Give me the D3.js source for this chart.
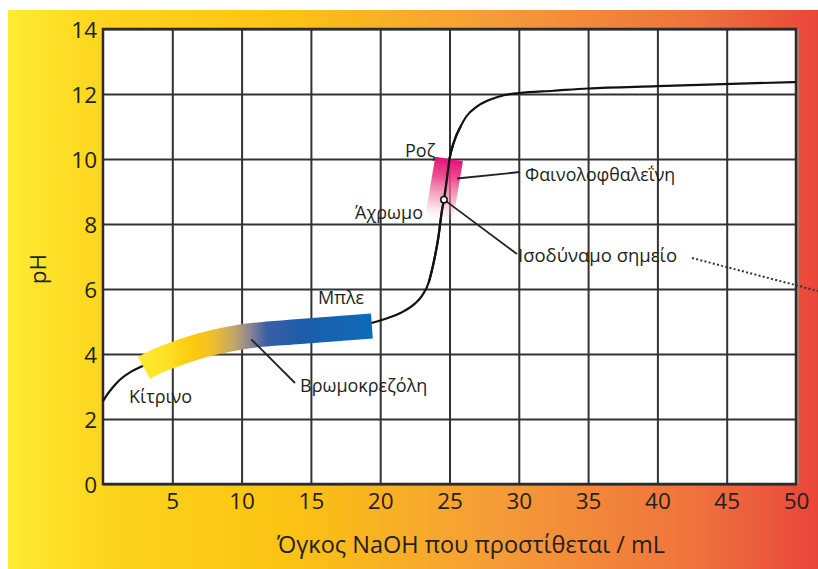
<!DOCTYPE html>
<html>
<head>
<meta charset="utf-8">
<script src="https://cdn.jsdelivr.net/npm/d3@7"></script>
<style>
  html, body { margin: 0; padding: 0; background: #ffffff; }
  svg { display: block; }
  text { font-family: "Open Sans", "Noto Sans", sans-serif; fill: #231f20; }
</style>
</head>
<body>
<svg id="chart" width="818" height="569"></svg>
<script>
// ---------- data ----------
// titration curve: volume NaOH (mL) vs pH
const volume = [0, 0.3, 0.7, 1.2, 2, 2.7, 3.5, 4.6, 7, 10, 14.2, 17, 19.5, 20.5, 21.5, 22.5, 23, 23.5, 23.85, 24.2, 24.45, 24.6, 24.8, 25, 25.3, 25.8, 26.2, 27, 28, 29, 30, 32.5, 35, 40, 43, 50];
const pH     = [2.55, 2.75, 2.97, 3.2, 3.45, 3.6, 3.74, 3.9, 4.25, 4.52, 4.72, 4.84, 4.97, 5.1, 5.27, 5.55, 5.78, 6.2, 6.8, 7.6, 8.4, 8.75, 9.35, 10.0, 10.5, 11.0, 11.3, 11.62, 11.84, 11.97, 12.03, 12.1, 12.17, 12.24, 12.28, 12.37];

// bromocresol green indicator band (centre line)
const bromoVolume = [2.96, 3.8, 4.6, 7, 9.9, 14.2, 19.4];
const bromoPH     = [3.57, 3.76, 3.9, 4.25, 4.52, 4.69, 4.86];
const bromoStopVolume = [2.95, 4.5, 6.6, 7.8, 9.4, 10.6, 11.8, 14.0, 19.5];
const bromoStopColor  = ["#fee92e", "#fde126", "#fcc80f", "#f2c027", "#c4a766", "#8d8591", "#3b5fa5", "#1f5ca9", "#0e6bb7"];

// phenolphthalein indicator band (centre line, top -> bottom)
const phenolVolume = [24.97, 24.2];
const phenolPH     = [10.0, 8.05];

// equivalence point
const eqVolume = 24.6, eqPH = 8.75;

// axes
const xTicks = [5, 10, 15, 20, 25, 30, 35, 40, 45, 50];
const yTicks = [0, 2, 4, 6, 8, 10, 12, 14];
const xTitle = "Όγκος NaOH που προστίθεται / mL";
const yTitle = "pH";
const labelTexts = ["Κίτρινο", "Βρωμοκρεζόλη", "Μπλε", "Ροζ", "Άχρωμο", "Φαινολοφθαλεΐνη", "Ισοδύναμο σημείο"];

// ---------- drawing ----------
(function () {
const svg = d3.select("#chart");
const W = 818, H = 569;
const pL = 103, pR = 796, pT = 29, pB = 484;
const x = d3.scaleLinear().domain([0, 50]).range([pL, pR]);
const y = d3.scaleLinear().domain([0, 14]).range([pB, pT]);

const defs = svg.append("defs");
const bg = defs.append("linearGradient").attr("id", "bg").attr("x1", 0).attr("x2", 1).attr("y1", 0).attr("y2", 0);
[[0, "#feec33"], [0.12, "#fdd41d"], [0.35, "#fbc313"], [0.6, "#f59c37"], [0.85, "#ef723d"], [1, "#e9463a"]]
  .forEach(([o, c]) => bg.append("stop").attr("offset", o).attr("stop-color", c));

svg.append("rect").attr("x", 8).attr("y", 10).attr("width", W - 8).attr("height", H - 10).attr("fill", "url(#bg)");
svg.append("rect").attr("x", pL).attr("y", pT).attr("width", pR - pL).attr("height", pB - pT).attr("fill", "#ffffff");

// grid + axes
const gx = svg.append("g").attr("transform", `translate(0,${pB})`)
  .call(d3.axisBottom(x).tickValues(xTicks).tickSize(-(pB - pT)).tickPadding(9).tickFormat(d3.format("d")));
const gy = svg.append("g").attr("transform", `translate(${pL},0)`)
  .call(d3.axisLeft(y).tickValues(yTicks).tickSize(-(pR - pL)).tickPadding(6).tickFormat(d3.format("d")));
[gx, gy].forEach(g => {
  g.select(".domain").remove();
  g.selectAll(".tick line").attr("stroke", "#333333").attr("stroke-width", 2);
  g.selectAll(".tick text").attr("font-size", 22.5).attr("fill", "#231f20")
    .style("font-family", '"Open Sans", sans-serif');
});
gy.selectAll(".tick text").attr("dy", "0.36em");

// frame
svg.append("rect").attr("x", pL).attr("y", pT).attr("width", pR - pL).attr("height", pB - pT)
  .attr("fill", "none").attr("stroke", "#2b2b2b").attr("stroke-width", 2.5);
svg.append("line").attr("x1", pR + 2).attr("x2", pR + 2).attr("y1", pT).attr("y2", pB)
  .attr("stroke", "#9a9a9a").attr("stroke-width", 1.2);

// titration curve
const line = d3.line().x(d => x(d[0])).y(d => y(d[1])).curve(d3.curveMonotoneX);
svg.append("path").datum(volume.map((v, i) => [v, pH[i]]))
  .attr("d", line).attr("fill", "none").attr("stroke", "#111").attr("stroke-width", 2.2);

// bromocresol band
const bg2 = defs.append("linearGradient").attr("id", "bromo").attr("gradientUnits", "userSpaceOnUse")
  .attr("x1", x(bromoStopVolume[0])).attr("x2", x(bromoStopVolume[bromoStopVolume.length - 1])).attr("y1", 0).attr("y2", 0);
const span = bromoStopVolume[bromoStopVolume.length - 1] - bromoStopVolume[0];
bromoStopVolume.forEach((v, i) => bg2.append("stop").attr("offset", (v - bromoStopVolume[0]) / span).attr("stop-color", bromoStopColor[i]));
svg.append("path").datum(bromoVolume.map((v, i) => [v, bromoPH[i]]))
  .attr("d", d3.line().x(d => x(d[0])).y(d => y(d[1])).curve(d3.curveMonotoneX))
  .attr("fill", "none").attr("stroke", "url(#bromo)").attr("stroke-width", 25).attr("stroke-linecap", "butt");

// phenolphthalein band
const ph = defs.append("linearGradient").attr("id", "phenol").attr("gradientUnits", "userSpaceOnUse")
  .attr("x1", x(phenolVolume[0])).attr("y1", y(phenolPH[0])).attr("x2", x(phenolVolume[1])).attr("y2", y(phenolPH[1]));
[[0, "#e5117a", 1], [0.3, "#ea3f86", 0.9], [0.65, "#f08eac", 0.6], [1, "#fce1ea", 0]]
  .forEach(([o, c, a]) => ph.append("stop").attr("offset", o).attr("stop-color", c).attr("stop-opacity", a));
svg.append("path").datum(phenolVolume.map((v, i) => [v, phenolPH[i]]))
  .attr("d", d3.line().x(d => x(d[0])).y(d => y(d[1])))
  .attr("fill", "none").attr("stroke", "url(#phenol)").attr("stroke-width", 28).attr("stroke-linecap", "butt");
// redraw curve over phenol band
svg.append("path").datum(volume.map((v, i) => [v, pH[i]]).filter(d => d[0] >= 23.5 && d[0] <= 25.8))
  .attr("d", line).attr("fill", "none").attr("stroke", "#111").attr("stroke-width", 2.2);

// leader lines
const lead = (x1, y1, x2, y2) => svg.append("line").attr("x1", x1).attr("y1", y1).attr("x2", x2).attr("y2", y2)
  .attr("stroke", "#222").attr("stroke-width", 1.8);
lead(x(10.7), y(4.45), 295, 383);       // Βρωμοκρεζόλη
lead(457, 178.5, 520, 172);             // Φαινολοφθαλεΐνη
lead(x(eqVolume), y(eqPH), 517, 254);   // Ισοδύναμο σημείο
svg.append("line").attr("x1", 692).attr("y1", 258).attr("x2", 818).attr("y2", 291)
  .attr("stroke", "#333").attr("stroke-width", 2).attr("stroke-dasharray", "2,2.3");

// equivalence point marker
svg.append("circle").attr("cx", x(eqVolume)).attr("cy", y(eqPH)).attr("r", 3.2)
  .attr("fill", "#fff").attr("stroke", "#111").attr("stroke-width", 1.5);

// labels
const lab = (t, xx, yy, anchor, fs) => svg.append("text").attr("x", xx).attr("y", yy)
  .attr("font-size", fs || 18).attr("text-anchor", anchor || "start").text(t);
lab(labelTexts[0], 129, 403);
lab(labelTexts[1], 300, 391.5);
lab(labelTexts[2], 318, 304);
lab(labelTexts[3], 405, 157);
lab(labelTexts[4], 423, 218.5, "end");
lab(labelTexts[5], 525, 181, "start", 17.8);
lab(labelTexts[6], 518, 261.5, "start", 18.5);

// axis titles
svg.append("text").attr("x", 471).attr("y", 553).attr("text-anchor", "middle").attr("font-size", 23.5).text(xTitle);
svg.append("text").attr("transform", "translate(46,269) rotate(-90)").attr("text-anchor", "middle").attr("font-size", 22.5).text(yTitle);
})();
</script>
</body>
</html>
